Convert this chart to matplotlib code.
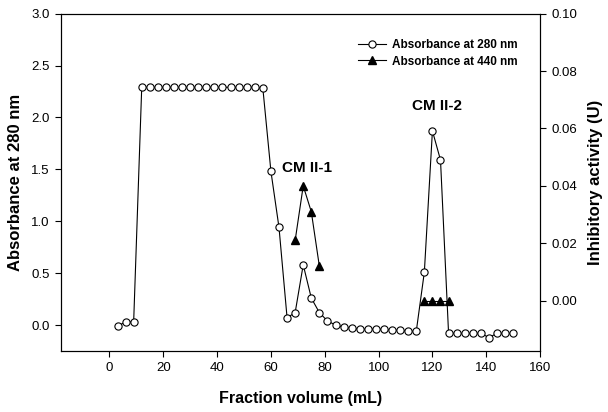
import matplotlib
matplotlib.use('Agg')
import matplotlib.pyplot as plt

plt.rcParams['font.family'] = ['Liberation Sans', 'DejaVu Sans']

# absorbance at 280 nm (left axis)
vol_280 = [3, 6, 9, 12, 15, 18, 21, 24, 27, 30, 33, 36, 39, 42, 45, 48, 51, 54, 57,
           60, 63, 66, 69, 72, 75, 78, 81, 84, 87, 90, 93, 96, 99, 102, 105, 108,
           111, 114, 117, 120, 123, 126, 129, 132, 135, 138, 141, 144, 147, 150]
abs_280 = [-0.01, 0.03, 0.03, 2.29, 2.29, 2.29, 2.29, 2.29, 2.29, 2.29, 2.29, 2.29,
           2.29, 2.29, 2.29, 2.29, 2.29, 2.29, 2.28,
           1.48, 0.94, 0.07, 0.12, 0.58, 0.26, 0.12, 0.04, 0.0, -0.02, -0.03, -0.04,
           -0.04, -0.04, -0.04, -0.05, -0.05, -0.06, -0.06, 0.51, 1.87, 1.59,
           -0.08, -0.08, -0.08, -0.08, -0.08, -0.12, -0.08, -0.08, -0.08]

# inhibitory activity (right axis), two segments
vol_act1 = [69, 72, 75, 78]
act1 = [0.021, 0.040, 0.031, 0.012]
vol_act2 = [117, 120, 123, 126]
act2 = [0.0, 0.0, 0.0, 0.0]

fig = plt.figure(figsize=(6.08, 4.12), dpi=100)
ax = fig.add_axes([0.1003, 0.148, 0.788, 0.819])
ax2 = ax.twinx()

l1, = ax.plot(vol_280, abs_280, color='black', lw=0.8, marker='o', ms=5.2,
              mfc='white', mec='black', mew=0.8, label='Absorbance at 280 nm')
l2, = ax2.plot(vol_act1, act1, color='black', lw=0.8, marker='^', ms=6,
               mfc='black', mec='black', label='Absorbance at 440 nm')
ax2.plot(vol_act2, act2, color='black', lw=0.8, marker='^', ms=6,
         mfc='black', mec='black')

ax.set_xlim(-18, 160)
ax.set_ylim(-0.25, 3.0)
ax2.set_ylim(-0.0175, 0.1)
ax.set_xticks(range(0, 161, 20))
ax.set_yticks([0.0, 0.5, 1.0, 1.5, 2.0, 2.5, 3.0])
ax.set_yticklabels(['0.0', '0.5', '1.0', '1.5', '2.0', '2.5', '3.0'])
ax2.set_yticks([0.0, 0.02, 0.04, 0.06, 0.08, 0.10])
ax2.set_yticklabels(['0.00', '0.02', '0.04', '0.06', '0.08', '0.10'])

for a in (ax, ax2):
    a.tick_params(direction='out', length=4, width=0.8, labelsize=9.5, pad=4)
    for s in a.spines.values():
        s.set_linewidth(0.8)

ax.set_xlabel('Fraction volume (mL)', fontsize=11.5, fontweight='bold', labelpad=12)
ax.set_ylabel('Absorbance at 280 nm', fontsize=12, fontweight='bold', labelpad=6)
ax2.set_ylabel('Inhibitory activity (U)', fontsize=12, fontweight='bold', labelpad=8)

ax.text(73.5, 1.51, 'CM II-1', fontsize=11, fontweight='bold', ha='center', va='center')
ax.text(121.8, 2.11, 'CM II-2', fontsize=11, fontweight='bold', ha='center', va='center')

ax2.legend([l1, l2], ['Absorbance at 280 nm', 'Absorbance at 440 nm'],
           loc='upper right', bbox_to_anchor=(0.975, 0.955), frameon=False,
           prop={'size': 8.5, 'weight': 'bold'}, handlelength=2.4,
           handletextpad=0.5, labelspacing=0.35)

fig.savefig('out.png', dpi=100)
